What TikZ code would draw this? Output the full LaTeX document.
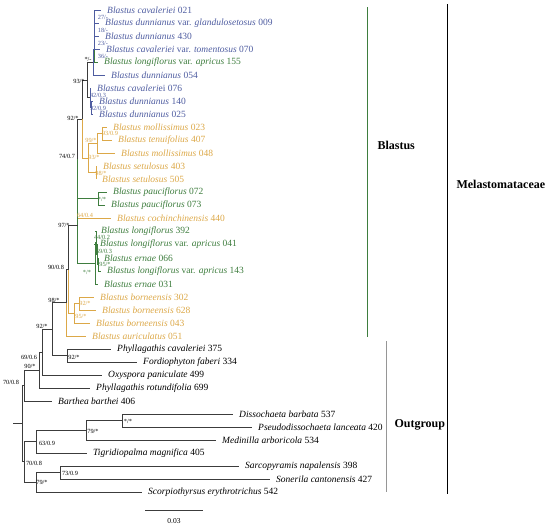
\documentclass[tikz,border=0pt]{standalone}
\usepackage{fontspec}
\setmainfont{Liberation Serif}
\usetikzlibrary{positioning}
\definecolor{bluclr}{RGB}{78,92,160}
\definecolor{grnclr}{RGB}{62,125,62}
\definecolor{orgclr}{RGB}{220,168,72}
\definecolor{brnclr}{RGB}{60,60,60}
\definecolor{ogclr}{RGB}{150,150,150}
\tikzset{
  br/.style={draw=brnclr,line width=0.9pt},
  bbr/.style={draw=bluclr,line width=0.7pt},
  gbr/.style={draw=grnclr,line width=0.7pt},
  obr/.style={draw=orgclr,line width=0.7pt},
  tip/.style={anchor=west,inner xsep=6pt,inner ysep=0pt,font=\fontsize{9.5}{10}\selectfont},
  btip/.style={tip,text=bluclr},
  gtip/.style={tip,text=grnclr},
  otip/.style={tip,text=orgclr},
  bs/.style={inner sep=0pt,font=\fontsize{6.3}{7}\selectfont},
  cladelbl/.style={font=\fontsize{12}{13}\selectfont\bfseries,anchor=west}
}
\begin{document}
\begin{tikzpicture}[x=1pt,y=-1pt]
  \useasboundingbox (0,0) rectangle (550,525);

  % Blastus: blue group
  \node[btip] (t021) at (101,10) {\textit{Blastus cavaleriei} 021};
  \node[btip] (t009) at (99,23) {\textit{Blastus dunnianus} var. \textit{glandulosetosus} 009};
  \node[btip] (t430) at (99,36) {\textit{Blastus dunnianus} 430};
  \node[btip] (t070) at (100,49) {\textit{Blastus cavaleriei} var. \textit{tomentosus} 070};
  \node[gtip] (t155) at (98,62) {\textit{Blastus longiflorus} var. \textit{apricus} 155};
  \node[btip] (t054) at (105,75) {\textit{Blastus dunnianus} 054};
  \node[btip] (t076) at (91,88) {\textit{Blastus cavaleri}ei 076};
  \node[btip] (t140) at (93,101) {\textit{Blastus dunnianus} 140};
  \node[btip] (t025) at (93,114) {\textit{Blastus dunnianus} 025};
  % orange and green groups
  \node[otip] (t023) at (107,127) {\textit{Blastus mollissimus} 023};
  \node[otip] (t407) at (112,140) {\textit{Blastus tenuifolius} 407};
  \node[otip] (t048) at (115,153) {\textit{Blastus mollissimus} 048};
  \node[otip] (t403) at (97,166) {\textit{Blastus setulosus} 403};
  \node[otip] (t505) at (96,179) {\textit{Blastus setulosus} 505};
  \node[gtip] (t072) at (107,192) {\textit{Blastus pauciflorus} 072};
  \node[gtip] (t073) at (105,205) {\textit{Blastus pauciflorus} 073};
  \node[otip] (t440) at (111,218) {\textit{Blastus cochinchinensis} 440};
  \node[gtip] (t392) at (95,231) {\textit{Blastus longiflorus} 392};
  \node[gtip] (t041) at (94,244) {\textit{Blastus longiflorus} var. \textit{apricus} 041};
  \node[gtip] (t066) at (98,258) {\textit{Blastus ernae} 066};
  \node[gtip] (t143) at (101,271) {\textit{Blastus longiflorus} var. \textit{apricus} 143};
  \node[gtip] (t031) at (98,284) {\textit{Blastus ernae} 031};
  \node[otip] (t302) at (94,297) {\textit{Blastus borneensis} 302};
  \node[otip] (t628) at (96,310) {\textit{Blastus borneensis} 628};
  \node[otip] (t043) at (90,323) {\textit{Blastus borneensis} 043};
  \node[otip] (t051) at (86,336) {\textit{Blastus auriculatus} 051};
  % outgroup
  \node[tip] (t375) at (111,349) {\textit{Phyllagathis cavaleriei} 375};
  \node[tip] (t334) at (137,362) {\textit{Fordiophyton faberi} 334};
  \node[tip] (t499) at (102,375) {\textit{Oxyspora paniculate} 499};
  \node[tip] (t699) at (90,388) {\textit{Phyllagathis rotundifolia} 699};
  \node[tip] (t406) at (52,401) {\textit{Barthea barthei} 406};
  \node[tip] (t537) at (233,414) {\textit{Dissochaeta barbata} 537};
  \node[tip] (t420) at (252,427) {\textit{Pseudodissochaeta lanceata} 420};
  \node[tip] (t534) at (216,440) {\textit{Medinilla arboricola} 534};
  \node[tip] (t405) at (87,453) {\textit{Tigridiopalma magnifica} 405};
  \node[tip] (t398) at (239,466) {\textit{Sarcopyramis napalensis} 398};
  \node[tip] (t427) at (270,479) {\textit{Sonerila cantonensis} 427};
  \node[tip] (t542) at (142,492) {\textit{Scorpiothyrsus erythrotrichus} 542};

  % internal nodes
  \coordinate (nb1) at (94,16.5);
  \coordinate (nb2) at (94,26.3);
  \coordinate (nb3) at (94,37.6);
  \coordinate (nb4) at (94,49.8);
  \coordinate (nb5) at (93,62.4);
  \coordinate (nb6) at (91,107.5);
  \coordinate (nb7) at (90,97.8);
  \coordinate (nb8) at (87,80.1);
  \coordinate (no1) at (102,133.5);
  \coordinate (no2) at (97,143.3);
  \coordinate (no3) at (96,172.5);
  \coordinate (no4) at (88,157.9);
  \coordinate (nbo) at (82,119);
  \coordinate (np1) at (98,198.5);
  \coordinate (n74) at (77.5,158.8);
  \coordinate (n64) at (77.5,188.4);
  \coordinate (nl1) at (98,264.5);
  \coordinate (nl2) at (97,254.3);
  \coordinate (nl3) at (96,242.6);
  \coordinate (nl4) at (95,263.3);
  \coordinate (n97) at (77.5,225.9);
  \coordinate (nbn1) at (79,303.5);
  \coordinate (nbn2) at (74,313.3);
  \coordinate (n90) at (68.5,269.6);
  \coordinate (n98) at (66,302.8);
  \coordinate (np2) at (67,355.5);
  \coordinate (n92) at (52,329.1);
  \coordinate (n69) at (42,352);
  \coordinate (n90b) at (39,370);
  \coordinate (n70a) at (24,385.5);
  \coordinate (nd1) at (122,420.5);
  \coordinate (nd2) at (86,430.3);
  \coordinate (nd3) at (36,441.6);
  \coordinate (ns1) at (60,472.5);
  \coordinate (ns2) at (36,482.3);
  \coordinate (n70b) at (24,461.9);
  \coordinate (nroot) at (22,423.7);
  \coordinate (rootend) at (13,423.7);

  % branches
  \draw[bbr] (nb1) |- (t021.west);
  \draw[bbr] (nb1) |- (t009.west);
  \draw[bbr] (nb2) |- (nb1);
  \draw[bbr] (nb2) |- (t430.west);
  \draw[bbr] (nb3) |- (nb2);
  \draw[bbr] (nb3) |- (t070.west);
  \draw[bbr] (nb4) |- (nb3);
  \draw[gbr] (nb4) |- (t155.west);
  \draw[bbr] (nb5) |- (nb4);
  \draw[bbr] (nb5) |- (t054.west);
  \draw[bbr] (nb6) |- (t140.west);
  \draw[bbr] (nb6) |- (t025.west);
  \draw[bbr] (nb7) |- (t076.west);
  \draw[bbr] (nb7) |- (nb6);
  \draw[br] (nb8) |- (nb5);
  \draw[br] (nb8) |- (nb7);
  \draw[obr] (no1) |- (t023.west);
  \draw[obr] (no1) |- (t407.west);
  \draw[obr] (no2) |- (no1);
  \draw[obr] (no2) |- (t048.west);
  \draw[obr] (no3) |- (t403.west);
  \draw[obr] (no3) |- (t505.west);
  \draw[obr] (no4) |- (no2);
  \draw[obr] (no4) |- (no3);
  \draw[br] (nbo) |- (nb8);
  \draw[obr] (nbo) |- (no4);
  \draw[gbr] (np1) |- (t072.west);
  \draw[gbr] (np1) |- (t073.west);
  \draw[obr] (n64) |- (t440.west);
  \draw[br] (n74) |- (nbo);
  \draw[gbr] (n74) |- (np1);
  \draw[gbr] (n64) |- (n74);
  \draw[gbr] (nl1) |- (t066.west);
  \draw[gbr] (nl1) |- (t143.west);
  \draw[gbr] (nl2) |- (t041.west);
  \draw[gbr] (nl2) |- (nl1);
  \draw[gbr] (nl3) |- (t392.west);
  \draw[gbr] (nl3) |- (nl2);
  \draw[gbr] (nl4) |- (nl3);
  \draw[gbr] (nl4) |- (t031.west);
  \draw[gbr] (n97) |- (n64);
  \draw[gbr] (n97) |- (nl4);
  \draw[obr] (nbn1) |- (t302.west);
  \draw[obr] (nbn1) |- (t628.west);
  \draw[obr] (nbn2) |- (nbn1);
  \draw[obr] (nbn2) |- (t043.west);
  \draw[br] (n90) |- (n97);
  \draw[obr] (n90) |- (nbn2);
  \draw[br] (n98) |- (n90);
  \draw[obr] (n98) |- (t051.west);
  \draw[br] (np2) |- (t375.west);
  \draw[br] (np2) |- (t334.west);
  \draw[br] (n92) |- (n98);
  \draw[br] (n92) |- (np2);
  \draw[br] (n69) |- (n92);
  \draw[br] (n69) |- (t499.west);
  \draw[br] (n90b) |- (n69);
  \draw[br] (n90b) |- (t699.west);
  \draw[br] (n70a) |- (n90b);
  \draw[br] (n70a) |- (t406.west);
  \draw[br] (nd1) |- (t537.west);
  \draw[br] (nd1) |- (t420.west);
  \draw[br] (nd2) |- (nd1);
  \draw[br] (nd2) |- (t534.west);
  \draw[br] (nd3) |- (nd2);
  \draw[br] (nd3) |- (t405.west);
  \draw[br] (ns1) |- (t398.west);
  \draw[br] (ns1) |- (t427.west);
  \draw[br] (ns2) |- (ns1);
  \draw[br] (ns2) |- (t542.west);
  \draw[br] (n70b) |- (nd3);
  \draw[br] (n70b) |- (ns2);
  \draw[br] (nroot) |- (n70a);
  \draw[br] (nroot) |- (n70b);
  \draw[br] (rootend) -- (nroot);

  % support values
  \node[bs,text=bluclr] (s1) at (103,17) {27/-};
  \node[bs,text=bluclr] (s2) at (103,30) {18/-};
  \node[bs,text=bluclr] (s3) at (103,43) {23/-};
  \node[bs,text=bluclr] (s4) at (103,56) {36/-};
  \node[bs] (s5) at (88,59) {*/-};
  \node[bs] (s6) at (79,81) {93/*};
  \node[bs,text=bluclr] (s7) at (98,95) {42/0.3};
  \node[bs,text=bluclr] (s8) at (98,108) {92/0.9};
  \node[bs] (s9) at (73,118) {92/*};
  \node[bs,text=orgclr] (s10) at (110,133) {93/0.9};
  \node[bs,text=orgclr] (s11) at (91,140) {99/*};
  \node[bs,text=orgclr] (s12) at (94,157) {93/*};
  \node[bs,text=orgclr] (s13) at (101,173) {98/*};
  \node[bs] (s14) at (67,156) {74/0.7};
  \node[bs,text=grnclr] (s15) at (102,199) {*/*};
  \node[bs,text=orgclr] (s16) at (85,215) {64/0.4};
  \node[bs] (s17) at (64,225) {97/*};
  \node[bs,text=grnclr] (s18) at (102,237.5) {44/0.2};
  \node[bs,text=grnclr] (s19) at (104,251) {59/0.3};
  \node[bs,text=grnclr] (s20) at (105,264) {95/*};
  \node[bs,text=grnclr] (s21) at (87,272) {*/*};
  \node[bs] (s22) at (56,267) {90/0.8};
  \node[bs,text=orgclr] (s23) at (85,303) {92/*};
  \node[bs,text=orgclr] (s24) at (81,316) {95/*};
  \node[bs] (s25) at (54,300) {98/*};
  \node[bs] (s26) at (42,326) {92/*};
  \node[bs] (s27) at (74,357) {92/*};
  \node[bs] (s28) at (29,357) {69/0.6};
  \node[bs] (s29) at (30,366) {90/*};
  \node[bs] (s30) at (11,382) {70/0.8};
  \node[bs] (s31) at (128,421) {*/*};
  \node[bs] (s32) at (93,431) {79/*};
  \node[bs] (s33) at (47,443) {63/0.9};
  \node[bs] (s34) at (34,463) {70/0.8};
  \node[bs] (s35) at (70,473) {73/0.9};
  \node[bs] (s36) at (42,482) {79/*};

  % scale bar
  \coordinate (sc1) at (145,510);
  \coordinate (sc2) at (203,510);
  \draw[br,line width=0.8pt] (sc1) -- (sc2);
  \node[bs,font=\fontsize{7.5}{8}\selectfont] (sclbl) at (174,521) {0.03};

  % clade bars
  \coordinate (blA) at (367,7);
  \coordinate (blB) at (367,337);
  \draw[grnclr,line width=1pt] (blA) -- (blB);
  \node[cladelbl] (blastus) at (374,145) {Blastus};
  \coordinate (ogA) at (386,341);
  \coordinate (ogB) at (386,492);
  \draw[ogclr,line width=1pt] (ogA) -- (ogB);
  \node[cladelbl] (outgroup) at (391,425) {Outgroup};
  \coordinate (meA) at (447,4);
  \coordinate (meB) at (447,494);
  \draw[black,line width=1pt] (meA) -- (meB);
  \node[cladelbl] (melas) at (453,184) {Melastomataceae};
\end{tikzpicture}
\end{document}
